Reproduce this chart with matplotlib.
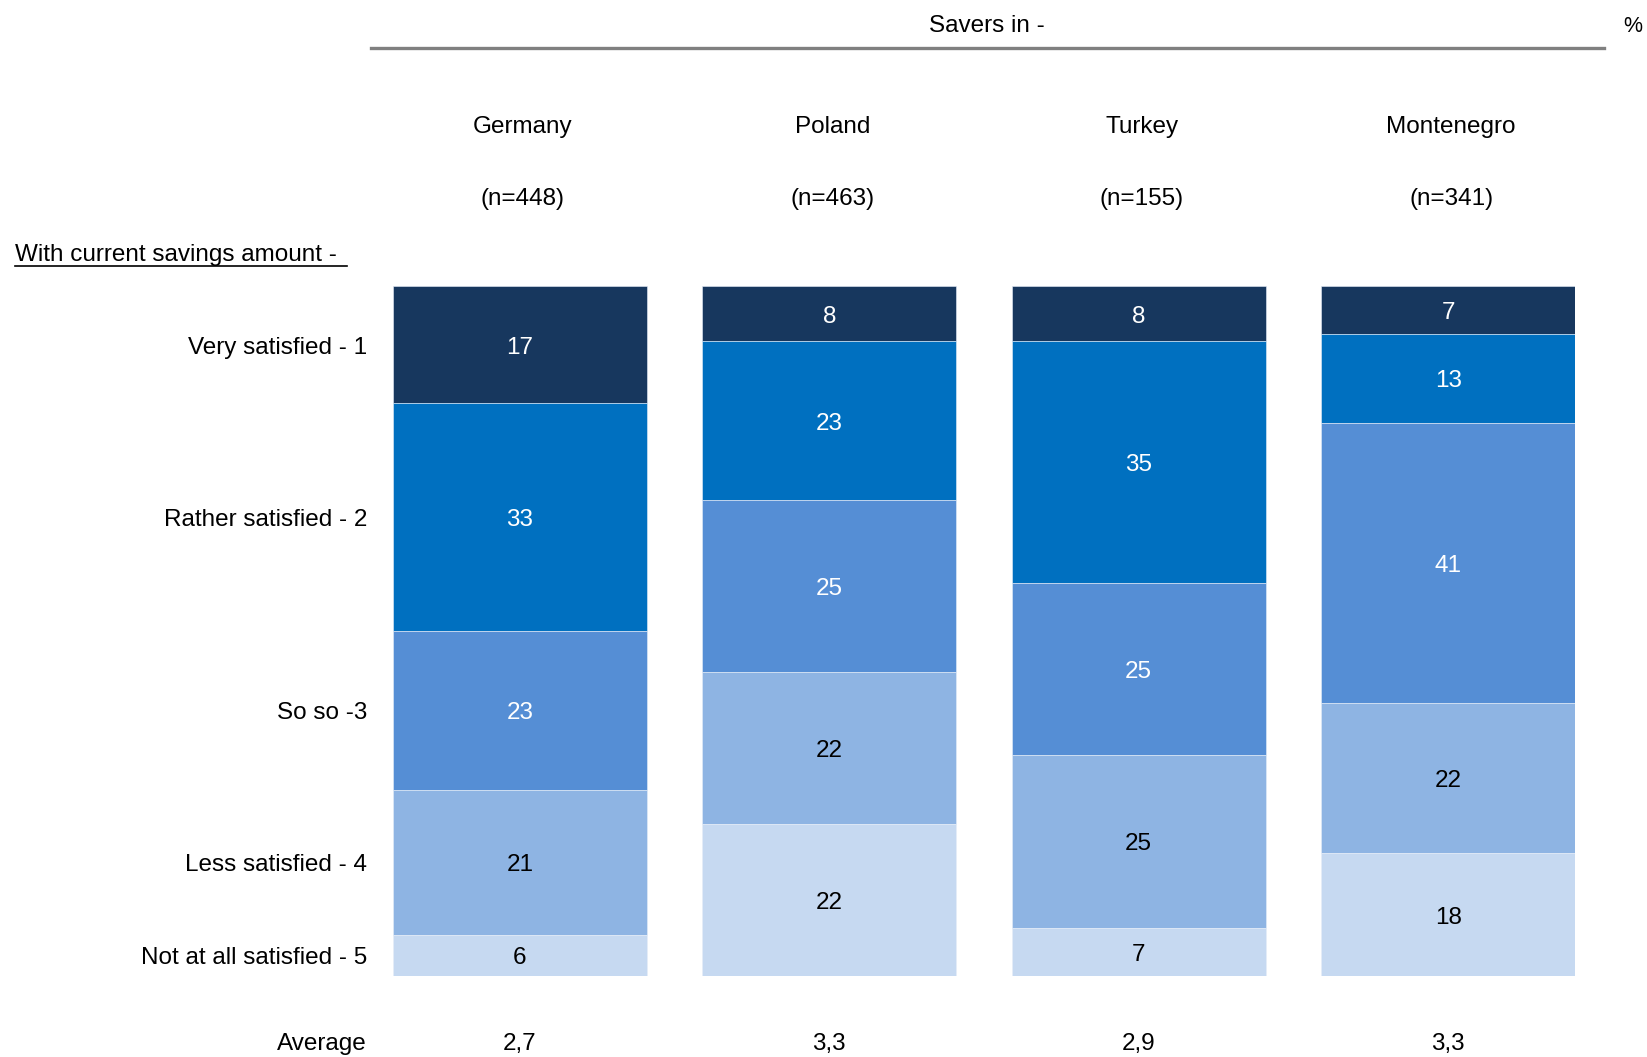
import matplotlib
matplotlib.use("Agg")
import matplotlib.pyplot as plt
import numpy as np
from matplotlib.transforms import blended_transform_factory, offset_copy
from matplotlib.lines import Line2D

plt.rcParams['font.family'] = ['Liberation Sans', 'DejaVu Sans']

# Data
countries = ["Germany", "Poland", "Turkey", "Montenegro"]
sample_sizes = ["(n=448)", "(n=463)", "(n=155)", "(n=341)"]
levels = ["Very satisfied - 1", "Rather satisfied - 2", "So so -3",
          "Less satisfied - 4", "Not at all satisfied - 5"]
very_satisfied = [17, 8, 8, 7]
rather_satisfied = [33, 23, 35, 13]
so_so = [23, 25, 25, 41]
less_satisfied = [21, 22, 25, 22]
not_satisfied = [6, 22, 7, 18]
averages = ["2,7", "3,3", "2,9", "3,3"]

series = [very_satisfied, rather_satisfied, so_so, less_satisfied, not_satisfied]
colors = ["#17375E", "#0070C0", "#558ED5", "#8EB4E3", "#C6D9F1"]
text_colors = ["white", "white", "white", "black", "black"]

W, H = 1647, 1057
fig = plt.figure(figsize=(W / 100, H / 100), dpi=100)
FS = 17.5
DY = -3  # small downward nudge for text, in pixels

# Plot area in pixel units
left_px, right_px, top_px, bot_px = 393, 1575, 286, 976
ax = fig.add_axes([left_px / W, 1 - bot_px / H, (right_px - left_px) / W, (bot_px - top_px) / H])
ax.set_xlim(-0.41, 3.41)
ax.set_ylim(100, 0)
ax.axis("off")

data_tr = offset_copy(ax.transData, fig=fig, y=DY, units="dots")

x = np.arange(len(countries))
vals = np.array(series, dtype=float)
totals = vals.sum(axis=0)
shares = vals / totals * 100  # each column filled to 100 %
bottoms = np.zeros(len(countries))
centers = []
for i, (row, col) in enumerate(zip(shares, colors)):
    ax.bar(x, row, bottom=bottoms, width=0.82, color=col,
           edgecolor="#E6EEF8", linewidth=0.4)
    mids = bottoms + row / 2
    centers.append(mids)
    for j in range(len(countries)):
        ax.text(x[j], mids[j], str(int(vals[i, j])), ha="center", va="center",
                fontsize=FS, color=text_colors[i], transform=data_tr)
    bottoms = bottoms + row

# Row labels aligned to the first column's segments
lab_tr = offset_copy(blended_transform_factory(fig.transFigure, ax.transData),
                     fig=fig, y=DY, units="dots")
for i, lab in enumerate(levels):
    fig.text(367 / W, centers[i][0], lab, transform=lab_tr, ha="right",
             va="center", fontsize=FS, color="black")

# Column headers and averages
col_tr = offset_copy(blended_transform_factory(ax.transData, fig.transFigure),
                     fig=fig, y=DY, units="dots")
for j in range(len(countries)):
    ax.text(x[j] + 0.01, 1 - 124 / H, countries[j], transform=col_tr, ha="center",
            va="center", fontsize=FS, clip_on=False)
    ax.text(x[j] + 0.01, 1 - 196 / H, sample_sizes[j], transform=col_tr, ha="center",
            va="center", fontsize=FS, clip_on=False)
    ax.text(x[j], 1 - 1041 / H, averages[j], transform=col_tr, ha="center",
            va="center", fontsize=FS, clip_on=False)

fig.text(367 / W, 1 - 1044 / H, "Average", ha="right", va="center", fontsize=FS)

# Top header
fig.text(987 / W, 1 - 26 / H, "Savers in -", ha="center", va="center", fontsize=FS)
fig.text(1633 / W, 1 - 26 / H, "%", ha="center", va="center", fontsize=FS - 2)
fig.add_artist(Line2D([371 / W, 1604 / W], [1 - 48 / H, 1 - 48 / H],
                      transform=fig.transFigure, color="#808080", linewidth=2.4))

# Underlined section title
fig.text(15 / W, 1 - 255 / H, "With current savings amount -", ha="left",
         va="center", fontsize=FS)
fig.add_artist(Line2D([15 / W, 347 / W], [1 - 266 / H, 1 - 266 / H],
                      transform=fig.transFigure, color="black", linewidth=1.2))

fig.savefig("out.png", dpi=100, facecolor="white")
